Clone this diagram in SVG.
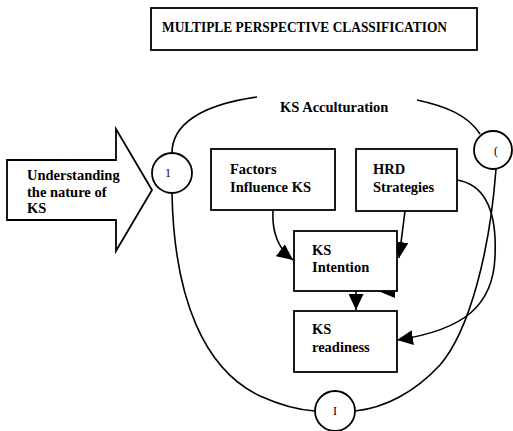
<svg xmlns="http://www.w3.org/2000/svg" width="513" height="431" viewBox="0 0 513 431">
<style>
  .box { fill: #fff; stroke: #000; stroke-width: 1.8; }
  .ln { fill: none; stroke: #000; stroke-width: 1.6; }
  .t { font-family: "Liberation Serif", "Times New Roman", serif; font-weight: bold; font-size: 14.5px; fill: #000; }
  .c { font-family: "Liberation Serif", "Times New Roman", serif; font-size: 12px; fill: #000; text-anchor: middle; }
</style>
<defs>
  <marker id="ah" viewBox="0 0 16 15" refX="16" refY="7.5" markerWidth="16" markerHeight="15" orient="auto" markerUnits="userSpaceOnUse">
    <path d="M0,0 L16,7.5 L0,15 z" fill="#000"/>
  </marker>
</defs>
<rect width="513" height="431" fill="#fff"/>

<g id="title">
  <rect class="box" x="151" y="8" width="326" height="42"/>
  <text class="t" x="162" y="32" style="font-size:14.5px" textLength="285" lengthAdjust="spacingAndGlyphs">MULTIPLE PERSPECTIVE CLASSIFICATION</text>
</g>

<g id="connectors">
  <path class="ln" d="M172,153 C172,125 200,105 257,97"/>
  <path class="ln" d="M417,100 C445,106 468,115 480,134"/>
  <path class="ln" d="M496,169 C490,250 470,330 440,365 C415,392 385,408 355,411"/>
  <path class="ln" d="M172,193 C174,300 205,370 260,396 C280,405 298,410 315,411"/>
  <path class="ln" d="M457,180 C488,185 497,215 495,257 C493,305 465,330 397,340" marker-end="url(#ah)"/>
  <path class="ln" d="M273,211 C272,230 276,247 293,260" marker-end="url(#ah)"/>
  <path class="ln" d="M405,211 L399,258" marker-end="url(#ah)"/>
  <path class="ln" d="M356,291 L356,310" marker-end="url(#ah)"/>
  <polygon points="378,291 395,283 395,298" fill="#000"/>
</g>

<g id="acculturation">
  <text class="t" x="280" y="112">KS Acculturation</text>
</g>

<g id="understanding">
  <polygon class="box" points="7,160 116,160 116,129 152,190 116,251 116,220 7,220"/>
  <text class="t" x="27" y="180">Understanding</text>
  <text class="t" x="27" y="196.5">the nature of</text>
  <text class="t" x="27" y="212.5">KS</text>
</g>

<g id="circle-left">
  <circle class="box" cx="172" cy="173" r="20"/>
  <text class="c" x="168" y="177">1</text>
</g>

<g id="circle-right">
  <circle class="box" cx="493" cy="150" r="19"/>
  <text class="c" x="496" y="155">(</text>
</g>

<g id="circle-bottom">
  <circle class="box" cx="335" cy="411" r="20"/>
  <text class="c" x="335" y="415">I</text>
</g>

<g id="factors">
  <rect class="box" x="211" y="149" width="124" height="61"/>
  <text class="t" x="230" y="174">Factors</text>
  <text class="t" x="230" y="192">Influence KS</text>
</g>

<g id="hrd">
  <rect class="box" x="356" y="149" width="101" height="62"/>
  <text class="t" x="373" y="174">HRD</text>
  <text class="t" x="373" y="192">Strategies</text>
</g>

<g id="intention">
  <rect class="box" x="294" y="231" width="103" height="60"/>
  <text class="t" x="312" y="255">KS</text>
  <text class="t" x="312" y="272">Intention</text>
</g>

<g id="readiness">
  <rect class="box" x="294" y="311" width="103" height="61"/>
  <text class="t" x="312" y="334">KS</text>
  <text class="t" x="312" y="352">readiness</text>
</g>
</svg>
